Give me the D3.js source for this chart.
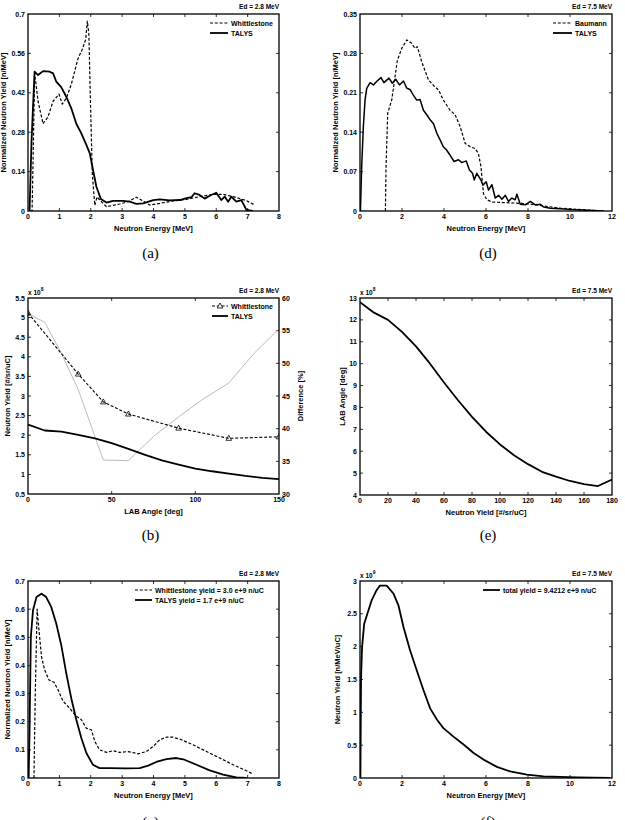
<!DOCTYPE html>
<html><head><meta charset="utf-8">
<script src="https://cdn.jsdelivr.net/npm/d3@7"></script>
<style>
body{margin:0;background:#fff;}
text{font-family:"Liberation Sans",Arial,sans-serif;}
text.cap{font-family:"Liberation Serif","DejaVu Serif",serif;}
</style></head>
<body><svg id="c" width="625" height="820"></svg>
<script>
// ---------- DATA ----------
// (a) Ed = 2.8 MeV neutron spectra
const aWhitE = [0.085,0.13,0.21,0.23,0.32,0.48,0.64,0.8,0.99,1.09,1.22,1.38,1.59,1.73,1.84,1.89,1.94,1.99,2.05,2.13,2.2,2.28,2.5,2.92,3.19,3.45,3.61,3.88,4.2,4.62,5.05,5.47,5.9,6.22,6.54,6.96,7.23];
const aWhitY = [0,0,0.465,0.475,0.39,0.31,0.335,0.39,0.415,0.38,0.40,0.45,0.54,0.575,0.61,0.675,0.63,0.39,0.13,0.02,0.05,0.04,0.015,0.025,0.033,0.049,0.039,0.021,0.027,0.036,0.041,0.051,0.059,0.059,0.051,0.037,0.021];
const aTalE = [0.05,0.11,0.16,0.21,0.32,0.48,0.69,0.8,0.9,1.06,1.22,1.38,1.54,1.7,1.86,1.97,2.05,2.18,2.32,2.5,2.71,3.03,3.24,3.45,3.67,3.99,4.2,4.52,4.84,5.05,5.21,5.31,5.47,5.63,5.84,6.0,6.16,6.27,6.38,6.48,6.64,6.8,6.96,7.17];
const aTalY = [0,0.24,0.37,0.495,0.483,0.497,0.495,0.489,0.46,0.44,0.406,0.365,0.31,0.276,0.235,0.205,0.158,0.086,0.043,0.03,0.036,0.036,0.033,0.025,0.027,0.039,0.041,0.038,0.039,0.046,0.049,0.063,0.057,0.044,0.057,0.065,0.039,0.051,0.033,0.051,0.033,0.039,0.004,0];
const aXTicks = [0,1,2,3,4,5,6,7,8];
const aYTicks = [0,0.14,0.28,0.42,0.56,0.7];
const aYLabels = ["0","0.14","0.28","0.42","0.56","0.7"];

// (d) Ed = 7.5 MeV neutron spectra
const dBauE = [1.21,1.24,1.32,1.51,1.67,1.78,1.99,2.23,2.46,2.62,2.73,2.94,3.26,3.53,3.74,3.97,4.29,4.53,4.77,5.01,5.25,5.48,5.64,5.76,5.88,6.04,6.28,6.84,7.47,8.11,8.74,9.54,10.33,11.13,11.6];
const dBauY = [0,0.079,0.174,0.197,0.239,0.268,0.289,0.304,0.298,0.289,0.292,0.265,0.233,0.222,0.215,0.197,0.179,0.171,0.15,0.12,0.114,0.111,0.102,0.079,0.031,0.02,0.016,0.015,0.014,0.012,0.009,0.005,0.003,0.001,0];
const dTalE = [0.02,0.08,0.16,0.24,0.32,0.48,0.64,0.79,1.0,1.14,1.38,1.54,1.7,1.88,2.07,2.23,2.38,2.54,2.7,2.86,3.02,3.18,3.34,3.5,3.66,3.82,3.97,4.13,4.29,4.48,4.69,4.85,5.06,5.21,5.36,5.44,5.56,5.76,5.85,6.01,6.12,6.28,6.44,6.6,6.76,6.92,7.07,7.23,7.39,7.47,7.63,7.87,8.11,8.35,8.59,8.74,9.06,9.54,10.33,11.13,11.6];
const dTalY = [0,0.079,0.15,0.197,0.218,0.228,0.224,0.23,0.237,0.228,0.236,0.227,0.234,0.224,0.231,0.218,0.216,0.206,0.197,0.198,0.179,0.171,0.162,0.155,0.138,0.126,0.114,0.108,0.099,0.088,0.091,0.086,0.089,0.073,0.067,0.055,0.067,0.055,0.046,0.052,0.037,0.047,0.023,0.028,0.021,0.028,0.017,0.023,0.02,0.03,0.012,0.011,0.017,0.011,0.012,0.007,0.005,0.004,0.002,0.001,0];
const dXTicks = [0,2,4,6,8,10,12];
const dYTicks = [0,0.07,0.14,0.21,0.28,0.35];
const dYLabels = ["0","0.07","0.14","0.21","0.28","0.35"];

// (b) angular distribution Ed = 2.8 MeV (x 1e8) and difference [%]
const bWhitAng = [0,30,45,60,90,120,150];
const bWhitY = [5.12,3.56,2.85,2.54,2.18,1.92,1.96];
const bTalAng = [0,10,20,30,40,50,60,70,80,90,100,110,120,130,140,150];
const bTalY = [2.27,2.12,2.09,2.01,1.92,1.80,1.65,1.50,1.36,1.25,1.15,1.08,1.02,0.96,0.91,0.88];
const bDiffAng = [0,10,20,30,45,60,75,90,105,120,135,150];
const bDiff = [57.6,56.3,51.5,46.0,35.2,35.1,38.8,41.8,44.6,47.0,51.5,55.3];
const bXTicks = [0,50,100,150];
const bYTicks = [0.5,1,1.5,2,2.5,3,3.5,4,4.5,5,5.5];
const bYLabels = ["0.5","1","1.5","2","2.5","3","3.5","4","4.5","5","5.5"];
const bY2Ticks = [30,35,40,45,50,55,60];

// (e) Ed = 7.5 MeV (x 1e8)
const eX = [0,10,20,30,40,50,60,70,80,90,100,110,120,130,140,150,160,170,180];
const eY = [12.81,12.33,12.0,11.45,10.79,10.0,9.14,8.33,7.57,6.89,6.31,5.82,5.41,5.06,4.84,4.64,4.5,4.41,4.71];
const eXTicks = [0,20,40,60,80,100,120,140,160,180];
const eYTicks = [4,5,6,7,8,9,10,11,12,13];

// (c) Ed = 2.8 MeV spectra
const cWhitE = [0.19,0.23,0.29,0.35,0.43,0.53,0.67,0.83,0.96,1.12,1.33,1.52,1.7,1.86,2.02,2.13,2.28,2.5,2.71,2.92,3.19,3.51,3.77,3.99,4.2,4.41,4.62,4.89,5.26,5.69,6.11,6.54,6.96,7.17];
const cWhitY = [0,0.289,0.6,0.525,0.431,0.384,0.348,0.34,0.313,0.272,0.248,0.221,0.207,0.177,0.171,0.13,0.1,0.091,0.097,0.091,0.094,0.086,0.094,0.112,0.136,0.145,0.145,0.136,0.118,0.094,0.071,0.047,0.026,0.014];
const cTalE = [0.02,0.05,0.09,0.16,0.27,0.43,0.58,0.74,0.9,1.06,1.22,1.38,1.54,1.7,1.86,2.07,2.28,2.6,3.13,3.56,3.83,4.09,4.41,4.73,4.99,5.37,5.79,6.22,6.64,6.96];
const cTalY = [0,0.171,0.5,0.596,0.643,0.655,0.643,0.608,0.549,0.472,0.372,0.283,0.207,0.142,0.089,0.047,0.035,0.035,0.034,0.035,0.044,0.057,0.067,0.071,0.065,0.047,0.027,0.012,0.002,0];
const cXTicks = [0,1,2,3,4,5,6,7,8];
const cYTicks = [0,0.1,0.2,0.3,0.4,0.5,0.6,0.7];

// (f) Ed = 7.5 MeV (x 1e9)
const fE = [0.02,0.05,0.1,0.2,0.35,0.56,0.79,0.95,1.27,1.59,1.83,2.07,2.38,2.7,3.02,3.34,3.66,3.97,4.45,4.93,5.41,5.88,6.52,7.15,7.95,8.74,10.33,11.92];
const fY = [0,1.54,2.0,2.35,2.5,2.71,2.86,2.93,2.93,2.81,2.63,2.3,1.95,1.64,1.34,1.06,0.89,0.76,0.63,0.51,0.38,0.28,0.17,0.1,0.05,0.025,0.01,0];
const fXTicks = [0,2,4,6,8,10,12];
const fYTicks = [0,0.5,1,1.5,2,2.5,3];

// ---------- DRAWING ----------
const svg = d3.select("#c");
const FS = 7;

function panel(o){
  const g = svg.append("g");
  const x = d3.scaleLinear().domain(o.xd).range([o.L,o.R]);
  const y = d3.scaleLinear().domain(o.yd).range([o.B,o.T]);
  const tl = 3;
  o.xt.forEach((t,i)=>{
    const px = x(t);
    if(i>0 && i<o.xt.length-1){
      g.append("line").attr("x1",px).attr("x2",px).attr("y1",o.B).attr("y2",o.B-tl).attr("stroke","#000").attr("stroke-width",0.8);
      g.append("line").attr("x1",px).attr("x2",px).attr("y1",o.T).attr("y2",o.T+tl).attr("stroke","#000").attr("stroke-width",0.8);
    }
    g.append("text").attr("x",px).attr("y",o.B+8).attr("text-anchor","middle").attr("font-size",FS).attr("font-weight","bold").text(o.xl?o.xl[i]:String(t));
  });
  o.yt.forEach((t,i)=>{
    const py = y(t);
    if(i>0 && i<o.yt.length-1){
      g.append("line").attr("x1",o.L).attr("x2",o.L+tl).attr("y1",py).attr("y2",py).attr("stroke","#000").attr("stroke-width",0.8);
      if(!o.y2) g.append("line").attr("x1",o.R).attr("x2",o.R-tl).attr("y1",py).attr("y2",py).attr("stroke","#000").attr("stroke-width",0.8);
    }
    g.append("text").attr("x",o.L-3).attr("y",py+2.5).attr("text-anchor","end").attr("font-size",FS).attr("font-weight","bold").text(o.yl?o.yl[i]:String(t));
  });
  let y2 = null;
  if(o.y2){
    y2 = d3.scaleLinear().domain(o.y2d).range([o.B,o.T]);
    o.y2.forEach((t,i)=>{
      const py = y2(t);
      if(i>0 && i<o.y2.length-1)
        g.append("line").attr("x1",o.R).attr("x2",o.R-tl).attr("y1",py).attr("y2",py).attr("stroke","#000").attr("stroke-width",0.8);
      g.append("text").attr("x",o.R+3).attr("y",py+2.5).attr("text-anchor","start").attr("font-size",FS).attr("font-weight","bold").text(String(t));
    });
    g.append("text").attr("transform",`translate(${o.R+24},${(o.T+o.B)/2}) rotate(-90)`).attr("text-anchor","middle").attr("font-size",7.5).attr("font-weight","bold").text(o.y2Label);
  }
  g.append("text").attr("x",(o.L+o.R)/2).attr("y",o.B+20).attr("text-anchor","middle").attr("font-size",7.5).attr("font-weight","bold").text(o.xLabel);
  g.append("text").attr("transform",`translate(${o.ylx},${(o.T+o.B)/2}) rotate(-90)`).attr("text-anchor","middle").attr("font-size",7.5).attr("font-weight","bold").text(o.yLabel);
  g.append("text").attr("x",o.R).attr("y",o.T-5).attr("text-anchor","end").attr("font-size",6.5).attr("font-weight","bold").text(o.ed);
  if(o.exp){
    const t = g.append("text").attr("x",o.L).attr("y",o.T-3).attr("font-size",6.5).attr("font-weight","bold");
    t.append("tspan").text("x 10");
    t.append("tspan").attr("dy",-4).attr("font-size",5).text(o.exp);
  }
  svg.append("text").attr("class","cap").attr("x",(o.L+o.R)/2+o.capDx).attr("y",o.capY).attr("text-anchor","middle").attr("font-size",15).text(o.cap);
  const id = "clip"+o.cap.replace(/\W/g,"");
  svg.append("clipPath").attr("id",id).append("rect").attr("x",o.L).attr("y",o.T).attr("width",o.R-o.L).attr("height",o.B-o.T);
  const pg = g.append("g").attr("clip-path",`url(#${id})`);
  o.series.forEach(s=>{
    const sc = s.right ? y2 : y;
    const line = d3.line().x((d,i)=>x(s.x[i])).y((d,i)=>sc(s.y[i]));
    pg.append("path").datum(s.y).attr("d",line).attr("fill","none").attr("stroke",s.color||"#000")
      .attr("stroke-width",s.w).attr("stroke-dasharray",s.dash||null).attr("stroke-linejoin","round");
    if(s.marker){
      s.y.forEach((v,i)=>{
        const cx=x(s.x[i]), cy=sc(v);
        pg.append("path").attr("d",`M${cx},${cy-3}L${cx+2.8},${cy+2}L${cx-2.8},${cy+2}Z`).attr("fill","none").attr("stroke","#000").attr("stroke-width",0.8);
      });
    }
  });
  g.append("rect").attr("x",o.L).attr("y",o.T).attr("width",o.R-o.L).attr("height",o.B-o.T).attr("fill","none").attr("stroke","#000").attr("stroke-width",1.3);
  (o.legend||[]).forEach((it,i)=>{
    const ly = o.legY + i*10;
    g.append("line").attr("x1",o.legX).attr("x2",o.legX+o.legW).attr("y1",ly).attr("y2",ly).attr("stroke","#000").attr("stroke-width",it.w).attr("stroke-dasharray",it.dash||null);
    if(it.marker){
      const cx=o.legX+o.legW/2, cy=ly;
      g.append("path").attr("d",`M${cx},${cy-3}L${cx+2.8},${cy+2}L${cx-2.8},${cy+2}Z`).attr("fill","#fff").attr("stroke","#000").attr("stroke-width",0.8);
    }
    g.append("text").attr("x",o.legX+o.legW+3).attr("y",ly+2.5).attr("font-size",7).attr("font-weight","bold").text(it.label);
  });
}

const DASH = "3,1.8";
panel({L:28,R:279,T:14,B:211,xd:[0,8],yd:[0,0.7],xt:aXTicks,yt:aYTicks,yl:aYLabels,
  xLabel:"Neutron Energy [MeV]",yLabel:"Normalized Neutron Yield [n/MeV]",ylx:6,ed:"Ed =  2.8 MeV",
  cap:"(a)",capY:258,capDx:-3,
  series:[{x:aWhitE,y:aWhitY,w:1.2,dash:DASH},{x:aTalE,y:aTalY,w:1.8}],
  legend:[{label:"Whittlestone",w:1.2,dash:DASH},{label:"TALYS",w:1.8}],legX:210,legY:23,legW:18});

panel({L:360,R:612,T:14,B:211,xd:[0,12],yd:[0,0.35],xt:dXTicks,yt:dYTicks,yl:dYLabels,
  xLabel:"Neutron Energy [MeV]",yLabel:"Normalized Neutron Yield [n/MeV]",ylx:338,ed:"Ed =  7.5 MeV",
  cap:"(d)",capY:258,capDx:2,
  series:[{x:dBauE,y:dBauY,w:1.2,dash:DASH},{x:dTalE,y:dTalY,w:1.5}],
  legend:[{label:"Baumann",w:1.2,dash:DASH},{label:"TALYS",w:1.8}],legX:553,legY:23,legW:19});

panel({L:28,R:279,T:298,B:494,xd:[0,150],yd:[0.5,5.5],xt:bXTicks,yt:bYTicks,yl:bYLabels,
  y2:bY2Ticks,y2d:[30,60],y2Label:"Difference [%]",
  xLabel:"LAB Angle [deg]",yLabel:"Neutron Yield [#/sr/uC]",ylx:10,ed:"Ed =  2.8 MeV",exp:"8",
  cap:"(b)",capY:540,capDx:-3,
  series:[{x:bDiffAng,y:bDiff,w:0.8,color:"#aaa",right:true},{x:bWhitAng,y:bWhitY,w:1.1,dash:DASH,marker:true},{x:bTalAng,y:bTalY,w:1.8}],
  legend:[{label:"Whittlestone",w:1.1,dash:DASH,marker:true},{label:"TALYS",w:1.8}],legX:212,legY:306,legW:16});

panel({L:360,R:612,T:298,B:495,xd:[0,180],yd:[4,13],xt:eXTicks,yt:eYTicks,
  xLabel:"Neutron Yield [#/sr/uC]",yLabel:"LAB Angle [deg]",ylx:345,ed:"Ed = 7.5 MeV",exp:"8",
  cap:"(e)",capY:540,capDx:2,
  series:[{x:eX,y:eY,w:1.8}]});

panel({L:28,R:279,T:581,B:778,xd:[0,8],yd:[0,0.7],xt:cXTicks,yt:cYTicks,
  xLabel:"Neutron Energy [MeV]",yLabel:"Normalized Neutron Yield [n/MeV]",ylx:10,ed:"Ed =  2.8 MeV",
  cap:"(c)",capY:827,capDx:-3,
  series:[{x:cWhitE,y:cWhitY,w:1.2,dash:DASH},{x:cTalE,y:cTalY,w:1.8}],
  legend:[{label:"Whittlestone yield = 3.0 e+9 n/uC",w:1.2,dash:DASH},{label:"TALYS yield = 1.7 e+9 n/uC",w:1.8}],legX:135,legY:590,legW:17});

panel({L:360,R:612,T:581,B:778,xd:[0,12],yd:[0,3],xt:fXTicks,yt:fYTicks,
  xLabel:"Neutron Energy [MeV]",yLabel:"Neutron Yield [n/MeV/uC]",ylx:340,ed:"Ed = 7.5 MeV",exp:"9",
  cap:"(f)",capY:827,capDx:2,
  series:[{x:fE,y:fY,w:1.8}],
  legend:[{label:"total yield = 9.4212 e+9 n/uC",w:1.8}],legX:483,legY:590,legW:17});
</script></body></html>
